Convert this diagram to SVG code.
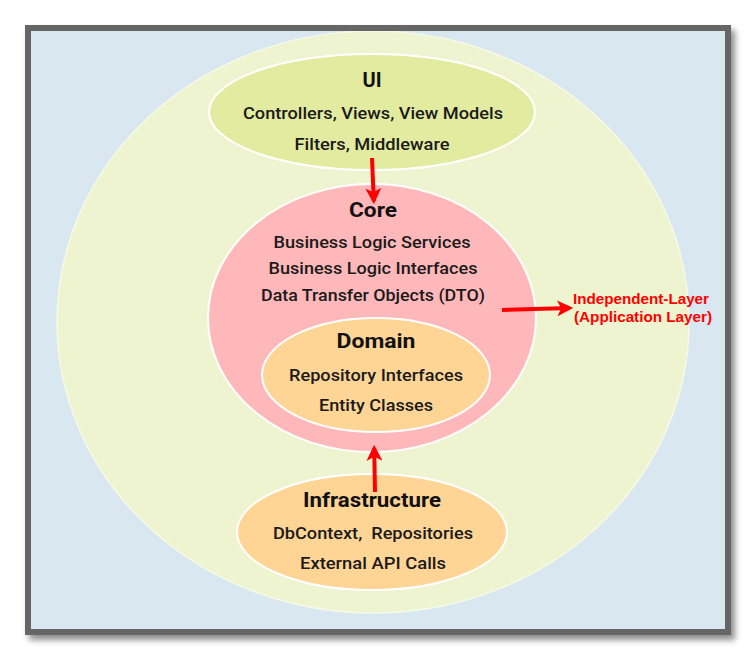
<svg xmlns="http://www.w3.org/2000/svg" width="756" height="660" viewBox="0 0 756 660">
<defs>
<style>
.t{font-family:Roboto,"Liberation Sans",Arial,sans-serif;font-size:16px;font-weight:500;fill:#1a1a1a;text-anchor:middle}
.h{font-family:Roboto,"Liberation Sans",Arial,sans-serif;font-size:20px;font-weight:bold;fill:#111;text-anchor:middle}
.r{font-family:"Liberation Sans",Arial,sans-serif;font-size:14px;font-weight:bold;fill:#ff0000;text-anchor:middle}
.ell{stroke:#ffffff;stroke-width:2}
.con{stroke:#ff0000;stroke-width:4;fill:none}
</style>
<filter id="sh" x="-5%" y="-5%" width="112%" height="112%">
<feGaussianBlur in="SourceAlpha" stdDeviation="3"/>
<feOffset dx="4" dy="5"/>
<feComponentTransfer><feFuncA type="linear" slope="0.45"/></feComponentTransfer>
<feMerge><feMergeNode/><feMergeNode in="SourceGraphic"/></feMerge>
</filter>
<clipPath id="clip"><rect x="31" y="31" width="694" height="598"/></clipPath>
<marker id="ah" markerWidth="4" markerHeight="4" refX="3.2" refY="2" orient="auto" markerUnits="strokeWidth">
<path d="M0,0 L4,2 L0,4 L1,2 z" fill="#ff0000"/>
</marker>
</defs>
<rect x="0" y="0" width="756" height="660" fill="#ffffff"/>
<g id="frame">
<rect x="28" y="28" width="700" height="604" fill="#d8e7f0" stroke="#666666" stroke-width="6" filter="url(#sh)"/>
<ellipse cx="373" cy="322" rx="316" ry="291" fill="#eef4cf" stroke="#f6f9e6" stroke-width="1.5" clip-path="url(#clip)"/>
</g>
<g id="ui">
<ellipse class="ell" cx="372" cy="112" rx="163" ry="58" fill="#e2eba0"/>
<text class="h" x="372" y="87">UI</text>
<text class="t" x="373" y="119" textLength="260" lengthAdjust="spacingAndGlyphs">Controllers, Views, View Models</text>
<text class="t" x="372" y="150" textLength="155" lengthAdjust="spacingAndGlyphs">Filters, Middleware</text>
</g>
<g id="core">
<ellipse class="ell" cx="372" cy="318" rx="164" ry="134" fill="#ffb8ba"/>
<text class="h" x="373" y="217" textLength="48" lengthAdjust="spacingAndGlyphs">Core</text>
<text class="t" x="372" y="248" textLength="197" lengthAdjust="spacingAndGlyphs">Business Logic Services</text>
<text class="t" x="373" y="274" textLength="209" lengthAdjust="spacingAndGlyphs">Business Logic Interfaces</text>
<text class="t" x="373" y="301" textLength="224" lengthAdjust="spacingAndGlyphs">Data Transfer Objects (DTO)</text>
</g>
<g id="domain">
<ellipse class="ell" cx="376" cy="375" rx="114" ry="57" fill="#ffd596"/>
<text class="h" x="376" y="348" textLength="79" lengthAdjust="spacingAndGlyphs">Domain</text>
<text class="t" x="376" y="381" textLength="174" lengthAdjust="spacingAndGlyphs">Repository Interfaces</text>
<text class="t" x="376" y="411" textLength="114" lengthAdjust="spacingAndGlyphs">Entity Classes</text>
</g>
<g id="infrastructure">
<ellipse class="ell" cx="372" cy="532" rx="135" ry="58" fill="#ffd596"/>
<text class="h" x="372" y="507" textLength="138" lengthAdjust="spacingAndGlyphs">Infrastructure</text>
<text class="t" x="373" y="539" textLength="200" lengthAdjust="spacingAndGlyphs" xml:space="preserve">DbContext,  Repositories</text>
<text class="t" x="373" y="569" textLength="146" lengthAdjust="spacingAndGlyphs">External API Calls</text>
</g>
<g id="label">
<text class="r" x="641" y="304" textLength="136" lengthAdjust="spacingAndGlyphs">Independent-Layer</text>
<text class="r" x="643" y="322" textLength="138" lengthAdjust="spacingAndGlyphs">(Application Layer)</text>
</g>
<g id="connectors">
<line class="con" x1="372" y1="158" x2="373.8" y2="201" marker-end="url(#ah)"/>
<line class="con" x1="375" y1="492" x2="374.2" y2="448" marker-end="url(#ah)"/>
<line class="con" x1="502" y1="310" x2="570" y2="308" marker-end="url(#ah)"/>
</g>
</svg>
